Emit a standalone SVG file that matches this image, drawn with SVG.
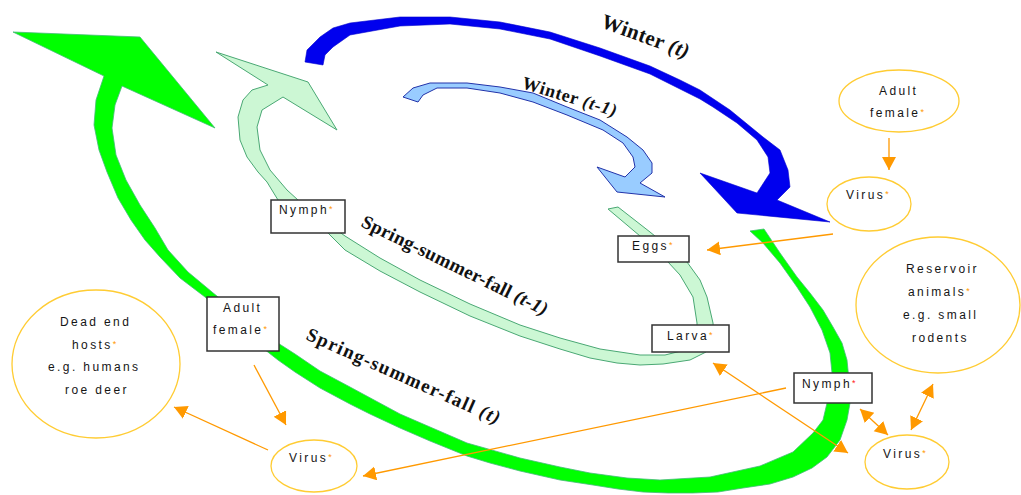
<svg xmlns="http://www.w3.org/2000/svg" width="1021" height="495" viewBox="0 0 1021 495">
<defs>
<style>
.season{font-family:"Liberation Serif","DejaVu Serif",serif;font-weight:bold;fill:#111;}
.lbl{font-family:"Liberation Sans",Arial,sans-serif;font-size:12px;letter-spacing:2.4px;fill:#151515;}
.ast{fill:#ff9900;font-size:9px;}
.astr{fill:#ff2222;font-size:9px;}
.box{fill:#fff;stroke:#333;stroke-width:1.5;}
.ell{fill:#fff;stroke:#ffcc33;stroke-width:1.3;}
.arr{stroke:#ff9900;stroke-width:1.3;fill:none;}
.one{marker-end:url(#ah);}
.two{marker-end:url(#ah);marker-start:url(#ah);}
</style>
<marker id="ah" markerUnits="userSpaceOnUse" markerWidth="16" markerHeight="16" refX="13" refY="7" orient="auto-start-reverse">
<path d="M0,0 L13,7 L0,14 Z" fill="#ff9900"/>
</marker>
</defs>
<rect width="1021" height="495" fill="#fff"/>

<g id="cycles">
<path id="green-t" fill="#00ff00" stroke="#44bb77" stroke-width="0.8" d="M750,231 L764,229 L780,253 L797,277 L810,293 L823,310 L833,327 L842,343 L847,360 L849,380 L850,403 L847,420 L840,440 L827,457 L812,468 L793,477 L770,484 L743,488 L718,492 L693,493 L668,493 L643,492 L618,489 L593,485 L560,480 L520,471 L490,463 L467,456 L430,441 L400,428 L370,414 L350,404 L320,388 L295,372 L278,360 L250,338 L225,315 L205,297 L180,278 L160,257 L145,240 L131,220 L118,198 L107,172 L99,150 L94,125 L96,100 L104,76 L13,32 L140,37 L215,128 L122,86 L115,105 L112,128 L116,155 L126,180 L140,205 L155,228 L168,250 L188,272 L212,292 L240,315 L270,338 L295,354 L320,371 L350,387 L400,414 L430,427 L467,443 L520,458 L560,467 L590,473 L627,478 L660,480 L710,477 L760,466 L793,452 L813,433 L823,420 L827,403 L830,390 L832,373 L830,353 L822,330 L810,307 L797,287 L780,263 L763,243 Z"/>
<path id="green-t1" fill="#ccf7d4" stroke="#4aa874" stroke-width="1" d="M608,209 L618,207 L650,232 L687,262 L700,280 L707,297 L713,323 L714,340 L706,352 L690,360 L663,364 L640,365 L617,363 L590,358 L560,349 L520,336 L470,316 L420,292 L380,271 L345,250 L328,233 L300,212 L278,200 L267,182 L258,172 L247,157 L240,140 L238,117 L243,100 L252,90 L268,85 L216,52 L308,82 L337,130 L283,97 L262,110 L257,127 L260,150 L270,170 L287,190 L298,200 L320,218 L345,236 L380,258 L420,280 L470,304 L520,325 L560,338 L600,349 L640,355 L665,355 L685,350 L697,335 L697,323 L693,297 L680,275 L668,262 L655,248 L640,236 Z"/>
<path id="blue-t" fill="#0000ee" stroke="#0000cc" stroke-width="0.6" d="M305,62 L307,50 L320,37 L333,28 L350,23 L400,17 L450,17 L500,22 L550,32 L600,48 L650,66 L680,80 L700,90 L730,110 L763,137 L780,150 L788,170 L790,187 L777,200 L830,222 L737,213 L700,173 L757,193 L770,173 L768,157 L757,140 L737,123 L713,107 L700,99 L650,74 L600,56 L550,39 L500,29 L450,24 L400,26 L350,35 L333,47 L325,55 L323,65 Z"/>
<path id="blue-t1" fill="#99ccff" stroke="#2233aa" stroke-width="1" d="M403,97 L413,88 L430,83 L467,83 L500,87 L533,93 L567,107 L600,120 L627,137 L643,150 L652,163 L652,173 L640,183 L665,197 L617,192 L597,167 L625,177 L635,167 L633,157 L623,143 L603,130 L567,115 L533,102 L500,93 L467,88 L437,88 L423,95 L418,102 Z"/>
</g>

<g id="season-labels">
<text class="season" font-size="21" transform="translate(600,27) rotate(20)" textLength="92">Winter <tspan font-style="italic">(t)</tspan></text>
<text class="season" font-size="18" transform="translate(521,88) rotate(17)" textLength="98">Winter <tspan font-style="italic">(t-1)</tspan></text>
<text class="season" font-size="19" transform="translate(360,226) rotate(26)" textLength="205">Spring-summer-fall <tspan font-style="italic">(t-1)</tspan></text>
<text class="season" font-size="19" transform="translate(305,339) rotate(24)" textLength="210">Spring-summer-fall <tspan font-style="italic">(t)</tspan></text>
</g>

<g id="connectors">
<line class="arr one" x1="889" y1="138" x2="889" y2="170"/>
<line class="arr one" x1="833" y1="234" x2="707" y2="250"/>
<line class="arr one" x1="786" y1="388" x2="363" y2="476"/>
<line class="arr two" x1="713" y1="363" x2="848" y2="453"/>
<line class="arr two" x1="860" y1="409" x2="888" y2="435"/>
<line class="arr two" x1="933" y1="384" x2="911" y2="430"/>
<line class="arr one" x1="254" y1="365" x2="286" y2="425"/>
<line class="arr one" x1="268" y1="450" x2="174" y2="407"/>
</g>

<g id="nymph-t1">
<rect class="box" x="271" y="200" width="74" height="33"/>
<text class="lbl" x="279" y="214">Nymph<tspan class="ast" dy="-2">*</tspan></text>
</g>
<g id="adult-female-t">
<rect class="box" x="207" y="297" width="72" height="54"/>
<text class="lbl" x="223" y="312">Adult</text>
<text class="lbl" x="213" y="334">female<tspan class="ast" dy="-2">*</tspan></text>
</g>
<g id="eggs">
<rect class="box" x="618" y="236" width="71" height="26"/>
<text class="lbl" x="632" y="250">Eggs<tspan class="ast" dy="-2">*</tspan></text>
</g>
<g id="larva">
<rect class="box" x="652" y="325" width="77" height="27"/>
<text class="lbl" x="667" y="340">Larva<tspan class="ast" dy="-2">*</tspan></text>
</g>
<g id="nymph-t">
<rect class="box" x="794" y="373" width="78" height="30"/>
<text class="lbl" x="802" y="388">Nymph<tspan class="astr" dy="-2">*</tspan></text>
</g>

<g id="adult-female-virus-src">
<ellipse class="ell" cx="899" cy="101" rx="60" ry="31"/>
<text class="lbl" x="879" y="95">Adult</text>
<text class="lbl" x="870" y="117">female<tspan class="ast" dy="-2">*</tspan></text>
</g>
<g id="virus-top">
<ellipse class="ell" cx="869" cy="204" rx="42" ry="27"/>
<text class="lbl" x="846" y="199">Virus<tspan class="ast" dy="-2">*</tspan></text>
</g>
<g id="reservoir">
<ellipse class="ell" cx="938" cy="305" rx="82" ry="68"/>
<text class="lbl" x="906" y="273">Reservoir</text>
<text class="lbl" x="908" y="296">animals<tspan class="ast" dy="-2">*</tspan></text>
<text class="lbl" x="903" y="319">e.g. small</text>
<text class="lbl" x="912" y="342">rodents</text>
</g>
<g id="virus-right">
<ellipse class="ell" cx="907" cy="462" rx="42" ry="27"/>
<text class="lbl" x="883" y="458">Virus<tspan class="ast" dy="-2">*</tspan></text>
</g>
<g id="dead-end">
<ellipse class="ell" cx="96" cy="364" rx="84" ry="74"/>
<text class="lbl" x="60" y="326">Dead end</text>
<text class="lbl" x="72" y="349">hosts<tspan class="ast" dy="-2">*</tspan></text>
<text class="lbl" x="48" y="371">e.g. humans</text>
<text class="lbl" x="65" y="394">roe deer</text>
</g>
<g id="virus-left">
<ellipse class="ell" cx="314" cy="466" rx="43" ry="26"/>
<text class="lbl" x="289" y="462">Virus<tspan class="ast" dy="-2">*</tspan></text>
</g>
</svg>
